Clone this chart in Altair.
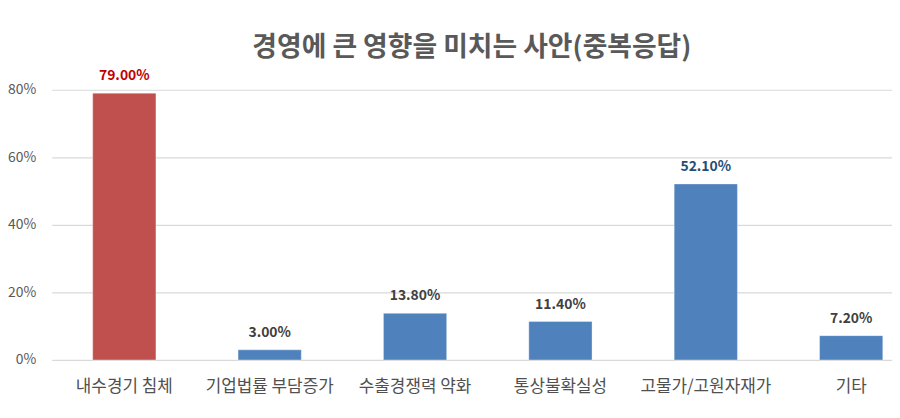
import altair as alt
import pandas as pd

categories = ["내수경기 침체", "기업법률 부담증가", "수출경쟁력 약화", "통상불확실성", "고물가/고원자재가", "기타"]
values = [79.0, 3.0, 13.8, 11.4, 52.1, 7.2]
bar_colors = ["#C0504D", "#4F81BD", "#4F81BD", "#4F81BD", "#4F81BD", "#4F81BD"]
label_colors = ["#C00000", "#404040", "#404040", "#404040", "#1F4E79", "#404040"]
title_text = "경영에 큰 영향을 미치는 사안(중복응답)"

df = pd.DataFrame({
    "cat": categories,
    "val": [v / 100 for v in values],
    "bar_color": bar_colors,
    "label_color": label_colors,
    "label": [f"{v:.2f}%" for v in values],
})

FONT = "Noto Sans CJK KR"

x = alt.X("cat:N", sort=categories,
          scale=alt.Scale(range=[0, 878], paddingInner=0.565, paddingOuter=0.282),
          axis=alt.Axis(title=None, labelAngle=0, domain=False, ticks=False,
                        labelFontSize=17, labelColor="#505050", labelFont=FONT,
                        labelPadding=19))
y = alt.Y("val:Q", scale=alt.Scale(domain=[0, 0.8], nice=False),
          axis=alt.Axis(title=None, format=".0%", values=[0, 0.2, 0.4, 0.6, 0.8],
                        domain=False, ticks=False, labelFontSize=14,
                        labelColor="#595959", labelFont=FONT, labelPadding=16,
                        gridColor="#D9D9D9", gridWidth=1.2))

base = alt.Chart(df)
bars = base.mark_bar(stroke="#FFFFFF", strokeOpacity=0.35, strokeWidth=1).encode(
    x=x, y=y, color=alt.Color("bar_color:N", scale=None))
text = base.mark_text(dy=-17, fontSize=14, fontWeight="bold", font=FONT).encode(
    x=alt.X("cat:N", sort=categories), y="val:Q", text="label:N",
    color=alt.Color("label_color:N", scale=None))

chart = alt.layer(bars, text).properties(
    width=846, height=272,
    autosize=alt.AutoSizeParams(type="none"),
    padding={"left": 44, "top": 81, "right": 0, "bottom": 40},
    title=alt.TitleParams(title_text, fontSize=27, font=FONT, fontWeight="bold",
                          color="#595959", anchor="middle", offset=7),
).configure_view(stroke=None)

chart.save("out.html", embed_options={"renderer": "svg", "actions": False})
